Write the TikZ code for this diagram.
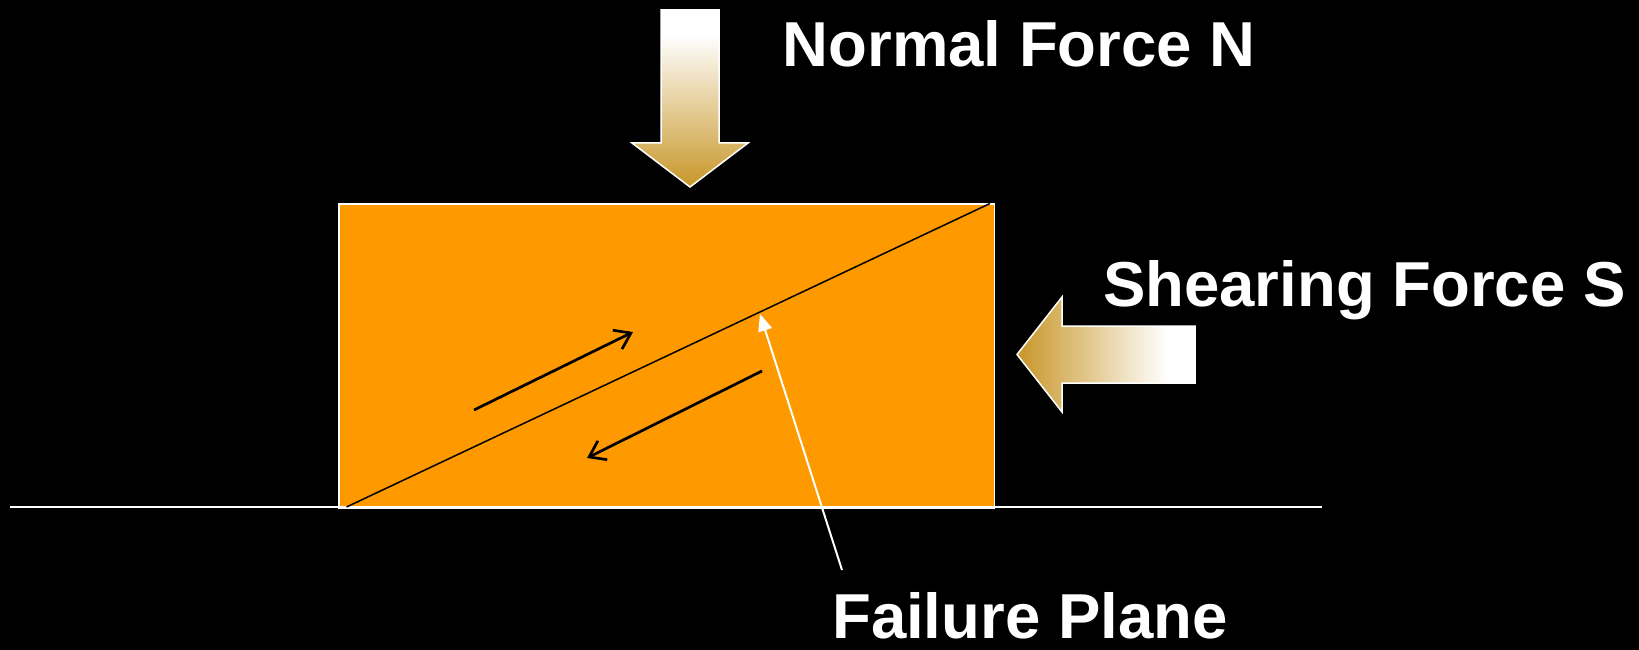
\documentclass[tikz,border=0pt]{standalone}
\usepackage{fontspec}
\setmainfont{Liberation Sans}
\usetikzlibrary{arrows.meta}
\definecolor{goldc}{RGB}{200,150,40}
\definecolor{blockorange}{RGB}{255,153,0}
\pgfdeclareverticalshading{downgrad}{100bp}{color(0bp)=(goldc); color(25bp)=(goldc); color(68bp)=(white); color(100bp)=(white)}
\pgfdeclarehorizontalshading{leftgrad}{100bp}{color(0bp)=(goldc); color(25bp)=(goldc); color(67bp)=(white); color(100bp)=(white)}
\begin{document}
\begin{tikzpicture}[x=1pt,y=-1pt,
  lbl/.style={text=white, font=\fontsize{63.5}{70}\selectfont\bfseries, inner sep=0pt, anchor=base west},
  forcearrow/.style={draw=white, line width=1.5pt, line join=miter},
  sheararrow/.style={draw=black, line width=2.7pt, -{Straight Barb[length=15pt,width=21pt]}},
  pointer/.style={draw=white, line width=2pt, -{Triangle[length=17pt,width=14pt]}},
  groundline/.style={draw=white, line width=2pt},
  planeline/.style={draw=black, line width=1.5pt}]
\fill[black] (0,0) rectangle (1639,650);
\useasboundingbox (0,0) rectangle (1639,650);
% block
\node[draw=white, fill=blockorange, line width=1.5pt, minimum width=655.5pt, minimum height=304pt, inner sep=0pt, anchor=north west] (block) at (338,203) {};
% ground
\coordinate (gL) at (10,507);
\coordinate (gR) at (1322,507);
\draw[groundline] (gL) -- (gR);
% failure plane
\coordinate (fpA) at (346.5,507);
\coordinate (fpB) at (990,203.5);
\draw[planeline] (fpA) -- (fpB);
% shear arrows
\coordinate (upA) at (474,410);
\coordinate (upB) at (633,332);
\coordinate (loA) at (762,371);
\coordinate (loB) at (587,458);
\draw[sheararrow] (upA) -- (upB);
\draw[sheararrow] (loA) -- (loB);
% normal force arrow
\shade[shading=downgrad, forcearrow] (661,10) -- (719,10) -- (719,143) -- (748,143) -- (690,187) -- (632,143) -- (661,143) -- cycle;
% shearing force arrow
\shade[shading=leftgrad, forcearrow] (1195,326) -- (1195,383) -- (1062,383) -- (1062,412) -- (1017,354.5) -- (1062,297) -- (1062,326) -- cycle;
% labels
\node[lbl] (normal) at (782.5,66.7) {Normal Force N};
\node[lbl] (shearing) at (1103,306.7) {Shearing Force S};
\node[lbl] (failure) at (832,638) {Failure Plane};
% pointer
\coordinate (ptail) at (842,570);
\coordinate (ptip) at (760,314);
\draw[pointer] (ptail) -- (ptip);
\end{tikzpicture}
\end{document}
